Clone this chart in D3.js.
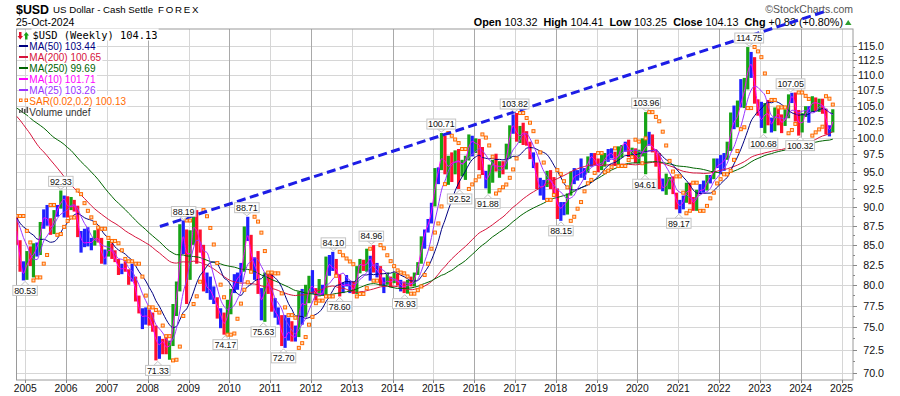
<!DOCTYPE html>
<html>
<head>
<meta charset="utf-8">
<script src="https://cdn.jsdelivr.net/npm/d3@7"></script>
<style>
  body { margin: 0; background: #fff; }
  svg { display: block; }
</style>
</head>
<body>
<svg id="chart" width="900" height="396"></svg>
<script>
// monthly bars, first bar is Oct 2004
const hi = [
  88.8, 85.6, 82.9,
  84.2, 84.8, 85.2, 85.3, 88.0, 89.7, 90.3, 88.5, 89.6, 90.3, 92.3, 91.6,
  91.5, 91.4, 91.0, 90.2, 86.8, 87.1, 87.3, 85.9, 86.9, 87.1, 85.9, 84.4,
  85.5, 85.2, 84.3, 83.2, 82.6, 82.9, 81.9, 82.6, 81.0, 78.7, 77.2, 77.3,
  77.0, 76.7, 75.2, 74.0, 73.7, 74.0, 73.5, 77.7, 80.4, 87.7, 88.2, 87.0,
  86.9, 89.1, 89.6, 87.0, 85.0, 81.5, 81.0, 79.8, 78.5, 77.2, 76.7, 78.2,
  79.5, 81.3, 81.5, 82.7, 87.4, 88.7, 86.3, 83.4, 84.2, 79.6, 81.5, 81.4,
  81.4, 78.4, 77.3, 76.4, 76.4, 76.1, 75.7, 75.2, 79.2, 79.5, 80.0, 81.1,
  81.8, 79.6, 80.7, 80.0, 83.5, 83.7, 84.1, 83.2, 81.3, 80.3, 81.2, 80.5,
  80.4, 82.3, 83.2, 83.1, 84.5, 83.6, 84.96, 82.7, 82.3, 80.9, 81.5, 81.0,
  81.5, 81.4, 80.6, 80.4, 80.6, 81.0, 81.5, 82.8, 86.1, 87.0, 88.4, 90.6,
  95.5, 95.6, 100.71, 100.3, 97.3, 97.8, 98.1, 98.3, 96.7, 97.3, 100.5, 100.3,
  99.9, 99.8, 98.6, 95.1, 96.0, 96.7, 97.6, 96.5, 96.5, 99.1, 101.9, 103.6,
  103.82, 101.8, 102.3, 101.0, 99.4, 97.8, 96.3, 94.1, 93.8, 95.1, 95.2, 94.2,
  92.6, 90.7, 90.7, 91.9, 95.0, 95.5, 95.2, 96.9, 95.5, 97.2, 97.7, 97.7,
  96.9, 97.4, 97.7, 98.3, 98.4, 97.9, 98.7, 98.9, 99.4, 99.7, 98.5, 98.4,
  98.2, 99.9, 103.96, 100.9, 100.5, 98.2, 97.7, 94.0, 94.7, 94.2, 94.3, 92.0,
  91.0, 91.6, 93.4, 93.4, 91.4, 92.4, 93.2, 93.7, 94.5, 94.5, 96.9, 96.9,
  97.4, 97.7, 99.4, 103.9, 105.0, 105.8, 109.3, 109.5, 114.75, 113.9, 113.0, 106.0,
  105.6, 105.4, 105.9, 103.1, 104.7, 104.7, 103.6, 104.4, 106.8, 107.05, 107.1, 104.3,
  103.8, 104.9, 104.9, 106.5, 106.3, 106.1, 106.1, 104.5, 101.9, 104.41
]
const lo = [
  85.0, 81.6, 80.53,
  80.6, 82.3, 80.9, 83.5, 83.7, 87.1, 87.5, 86.3, 86.4, 88.7, 89.8, 88.6,
  88.6, 89.6, 89.4, 86.0, 84.0, 84.7, 84.8, 84.3, 84.9, 85.3, 82.6, 82.5,
  83.5, 83.2, 82.8, 81.2, 81.3, 81.6, 80.0, 80.4, 78.0, 76.6, 74.8, 75.3,
  75.2, 74.5, 71.33, 71.5, 72.0, 72.0, 71.4, 72.9, 76.3, 79.2, 83.8, 77.7,
  80.6, 85.0, 82.6, 84.0, 79.2, 79.0, 78.2, 77.7, 76.0, 74.9, 74.17, 74.3,
  76.5, 79.0, 79.4, 80.3, 81.6, 85.5, 81.7, 80.6, 78.9, 75.8, 75.63, 78.9,
  76.8, 76.1, 75.3, 72.9, 72.70, 73.5, 73.4, 73.4, 73.9, 75.3, 76.2, 77.8,
  78.9, 78.1, 78.6, 78.7, 78.6, 81.1, 81.7, 81.2, 78.60, 79.0, 79.8, 79.0,
  78.9, 78.9, 81.4, 81.7, 81.6, 80.5, 81.5, 80.9, 79.9, 79.0, 80.0, 79.7,
  80.2, 79.9, 79.2, 79.0, 78.93, 79.8, 79.8, 81.2, 82.6, 84.5, 86.6, 87.8,
  90.1, 93.2, 95.2, 94.6, 93.1, 93.5, 94.6, 92.52, 94.3, 93.8, 96.6, 97.2,
  97.7, 95.2, 94.5, 92.6, 91.88, 93.4, 95.0, 94.1, 94.6, 95.3, 96.9, 100.6,
  99.4, 99.2, 98.9, 98.8, 96.8, 95.5, 92.5, 91.6, 91.0, 92.8, 92.5, 91.9,
  88.4, 88.15, 88.9, 89.0, 91.6, 93.2, 93.7, 94.1, 93.8, 94.8, 95.7, 95.9,
  94.9, 95.2, 95.7, 96.4, 96.9, 95.8, 95.8, 97.0, 97.9, 97.1, 97.1, 96.2,
  96.2, 97.2, 94.61, 98.8, 97.8, 95.7, 92.5, 92.2, 91.7, 92.5, 91.8, 89.7,
  89.17, 89.7, 90.6, 90.4, 89.5, 89.5, 91.8, 92.0, 92.3, 93.3, 93.9, 95.5,
  94.6, 95.1, 96.7, 98.0, 101.3, 101.6, 104.7, 104.6, 107.6, 109.5, 105.3, 103.4,
  101.5, 100.68, 101.9, 100.8, 101.0, 101.9, 100.7, 101.8, 103.0, 105.4, 102.5, 100.32,
  100.8, 103.2, 102.3, 104.0, 104.1, 104.0, 103.7, 100.5, 100.2, 100.8
]
const cl = [
  85.1, 81.8, 81.0,
  83.8, 82.7, 84.8, 84.6, 87.9, 89.2, 87.7, 86.9, 89.4, 89.8, 91.3, 90.9,
  89.5, 90.6, 89.8, 86.4, 85.3, 85.2, 85.4, 85.2, 86.3, 85.3, 82.8, 83.7,
  84.9, 83.5, 82.9, 81.6, 82.3, 81.8, 80.5, 80.9, 78.0, 76.6, 75.9, 76.7,
  75.4, 74.9, 72.4, 73.7, 73.1, 72.5, 73.3, 77.1, 79.6, 85.6, 86.5, 81.4,
  86.3, 88.2, 85.6, 84.5, 79.4, 80.1, 78.6, 78.3, 76.7, 76.2, 74.7, 77.9,
  79.4, 80.5, 81.0, 81.8, 86.3, 86.1, 81.7, 83.1, 79.2, 77.2, 81.1, 79.0,
  77.2, 76.5, 75.9, 73.0, 74.6, 74.3, 73.8, 74.0, 78.7, 76.8, 78.4, 80.2,
  79.4, 78.8, 79.0, 78.8, 83.4, 81.6, 82.6, 81.2, 79.9, 79.9, 80.1, 79.8,
  79.2, 82.0, 83.0, 81.8, 83.3, 83.1, 81.5, 82.1, 80.2, 80.2, 80.7, 80.0,
  81.2, 79.9, 80.1, 79.5, 80.4, 79.8, 81.5, 82.7, 85.9, 86.9, 88.4, 90.3,
  94.8, 95.3, 98.4, 94.6, 96.9, 95.5, 97.3, 95.8, 96.4, 96.9, 100.2, 98.7,
  99.6, 98.2, 94.6, 93.1, 95.9, 96.1, 95.5, 96.0, 95.5, 98.4, 101.5, 102.2,
  99.5, 101.1, 100.4, 99.0, 97.0, 95.6, 92.9, 92.7, 93.1, 94.6, 93.0, 92.1,
  89.1, 90.6, 90.1, 91.8, 93.9, 94.5, 94.5, 95.1, 95.1, 97.1, 97.2, 96.2,
  95.6, 96.2, 97.3, 97.5, 97.8, 96.1, 98.5, 98.9, 99.4, 97.4, 98.3, 96.4,
  97.4, 98.1, 99.0, 99.0, 98.3, 97.4, 93.3, 92.1, 93.9, 94.0, 91.9, 89.9,
  90.6, 90.9, 93.2, 91.3, 90.0, 92.4, 92.2, 92.6, 94.2, 94.1, 95.8, 95.7,
  96.5, 96.7, 98.3, 102.9, 101.8, 104.7, 105.9, 108.7, 112.1, 111.5, 105.9, 103.5,
  102.1, 104.9, 102.5, 101.7, 104.3, 102.9, 101.9, 103.6, 106.2, 106.7, 103.5, 101.3,
  103.3, 104.2, 104.5, 106.2, 104.7, 105.9, 104.1, 101.7, 100.8, 104.13
]
// Dec 1999 .. Sep 2004 closes, only used to warm up the long averages
const preClose = [
  101.9,
  102.3, 104.8, 105.0, 109.7, 108.6, 106.1, 108.9, 112.3, 114.4, 117.6, 116.2, 109.1,
  110.3, 112.9, 117.2, 116.0, 119.5, 120.3, 117.3, 113.3, 113.6, 115.9, 116.6, 116.8,
  119.8, 119.2, 118.8, 115.5, 111.6, 106.6, 107.9, 107.6, 108.1, 107.9, 107.0, 102.0,
  99.4, 99.3, 100.6, 97.6, 93.5, 95.2, 97.4, 98.4, 93.3, 93.0, 91.0, 86.9,
  87.9, 88.6, 87.8, 90.6, 88.8, 88.8, 89.9, 89.4, 88.5
]
const yTicks = [70, 72.5, 75, 77.5, 80, 82.5, 85, 87.5, 90, 92.5, 95, 97.5, 100, 102.5, 105, 107.5, 110, 112.5, 115]
const years = d3.range(2005, 2026)
// labelled turning points: date, value, above/below
const marks = [
  ["2004-12-30", 80.53, "lo"], ["2005-11-15", 92.33, "hi"], ["2008-04-01", 71.33, "lo"],
  ["2008-11-18", 88.19, "hi"], ["2009-11-25", 74.17, "lo"], ["2010-06-07", 88.71, "hi"],
  ["2010-11-01", 75.63, "lo"], ["2011-05-01", 72.70, "lo"], ["2012-07-20", 84.10, "hi"],
  ["2012-09-14", 78.60, "lo"], ["2013-06-25", 84.96, "hi"], ["2014-04-20", 78.93, "lo"],
  ["2015-03-13", 100.71, "hi"], ["2015-08-24", 92.52, "lo"], ["2016-05-03", 91.88, "lo"],
  ["2016-12-28", 103.82, "hi"], ["2018-02-16", 88.15, "lo"], ["2020-03-19", 103.96, "hi"],
  ["2020-03-09", 94.61, "lo"], ["2021-01-06", 89.17, "lo"], ["2022-09-28", 114.75, "hi"],
  ["2023-02-02", 100.68, "lo"], ["2023-10-03", 107.05, "hi"], ["2023-12-28", 100.32, "lo"]
]
const trend = [["2008-04-20", 87.4], ["2024-08-20", 121.2]]
const legendItems = [
  ["MA(50) 103.44", "#000080"], ["MA(200) 100.65", "#d6143c"], ["MA(250) 99.69", "#006400"],
  ["MA(10) 101.71", "#ff00ff"], ["MA(25) 103.26", "#9933ff"]
]

const svg = d3.select("#chart")
const P = { l: 16.5, r: 853, t: 29, b: 380 }
const parse = d3.timeParse("%Y-%m-%d")
const x = d3.scaleTime().domain([new Date(2005, 0, 1), new Date(2025, 0, 1)]).range([25.3, 841.5])
const y = d3.scaleLog().domain([70, 115]).range([372.8, 45.6])
const dates = hi.map((d, i) => new Date(2004, 9 + i, 15))

// indicators (weekly periods turned into months)
const all = preClose.concat(cl)
const off = preClose.length
const ma = n => cl.map((d, i) => d3.mean(all.slice(off + i - n + 1, off + i + 1)))
const ema = (arr, n) => { const k = 2 / (n + 1); let e = arr[0]; return arr.map((v, i) => i ? (e = v * k + e * (1 - k)) : e) }
const e13 = ema(all, 3)
const macd = ema(all, 3).map((v, i) => v - ema(all, 6)[i])
const sig = ema(macd, 2)
const hist = macd.map((v, i) => v - sig[i])
const barColor = i => {
  const j = off + i
  const a = e13[j] > e13[j - 1], b = hist[j] > hist[j - 1]
  return a && b ? "#16a316" : (!a && !b ? "#ff1030" : "#2020ff")
}
function psar(h, l, step, top) {
  let up = false, af = step, ep = l[0], s = h[0]
  const out = [s]
  for (let i = 1; i < h.length; i++) {
    s = s + af * (ep - s)
    if (up) {
      s = Math.min(s, l[i - 1], l[Math.max(i - 2, 0)])
      if (l[i] < s) { up = false; s = ep; ep = l[i]; af = step }
      else if (h[i] > ep) { ep = h[i]; af = Math.min(af + step, top) }
    } else {
      s = Math.max(s, h[i - 1], h[Math.max(i - 2, 0)])
      if (h[i] > s) { up = true; s = ep; ep = h[i]; af = step }
      else if (l[i] < ep) { ep = l[i]; af = Math.min(af + step, top) }
    }
    out.push(s)
  }
  return out
}
// weekly 0.02/0.2 acts about four times faster per monthly bar
const sar = psar(hi, lo, 0.08, 0.5)

svg.append("clipPath").attr("id", "clip").append("rect")
  .attr("x", P.l).attr("y", P.t).attr("width", P.r - P.l).attr("height", P.b - P.t)

// grid
const grid = svg.append("g")
grid.selectAll("line.h").data(yTicks).join("line")
  .attr("x1", P.l).attr("x2", P.r).attr("y1", d => Math.round(y(d)) + 0.5).attr("y2", d => Math.round(y(d)) + 0.5)
  .attr("stroke", "#d6d6d6")
grid.selectAll("line.v").data(years).join("line")
  .attr("x1", d => Math.round(x(new Date(d, 0, 1))) + 0.5).attr("x2", d => Math.round(x(new Date(d, 0, 1))) + 0.5)
  .attr("y1", P.t).attr("y2", P.b)
  .attr("stroke", d => d % 2 ? "#d6d6d6" : "#a9a9a9")
svg.append("rect").attr("x", P.l).attr("y", P.t).attr("width", P.r - P.l).attr("height", P.b - P.t)
  .attr("fill", "none").attr("stroke", "#9a9a9a")

// axes
const yAxis = svg.append("g")
yAxis.selectAll("line").data(d3.range(70, 116.25, 1.25)).join("line")
  .attr("x1", P.r).attr("x2", d => P.r + (d % 2.5 ? 2 : 4))
  .attr("y1", d => Math.round(y(d)) + 0.5).attr("y2", d => Math.round(y(d)) + 0.5).attr("stroke", "#888")
yAxis.selectAll("text").data(yTicks).join("text")
  .attr("x", 884).attr("y", d => y(d) + 4).attr("text-anchor", "end")
  .attr("font-family", "Liberation Sans, Arial, sans-serif").attr("font-size", 10.7).attr("fill", "#111")
  .text(d => d.toFixed(1))
const xAxis = svg.append("g")
xAxis.selectAll("line").data(years).join("line")
  .attr("x1", d => Math.round(x(new Date(d, 0, 1))) + 0.5).attr("x2", d => Math.round(x(new Date(d, 0, 1))) + 0.5)
  .attr("y1", P.b).attr("y2", P.b + 3).attr("stroke", "#888")
xAxis.selectAll("text").data(years).join("text")
  .attr("x", d => x(new Date(d, 0, 1))).attr("y", 392).attr("text-anchor", "middle")
  .attr("font-family", "Liberation Sans, Arial, sans-serif").attr("font-size", 10.3).attr("fill", "#111")
  .text(d => d)

const plot = svg.append("g").attr("clip-path", "url(#clip)")

// price bars
plot.selectAll("rect.bar").data(hi).join("rect")
  .attr("x", (d, i) => x(dates[i]) - 1.6).attr("width", 3.2)
  .attr("y", d => y(d)).attr("height", (d, i) => Math.max(1, y(lo[i]) - y(d)))
  .attr("fill", (d, i) => barColor(i))

// moving averages
const line = d3.line().x((d, i) => x(dates[i])).y(d => y(d)).curve(d3.curveMonotoneX)
const mas = [[46, "#d6143c"], [58, "#006400"], [12, "#000080"], [6, "#9933ff"], [2, "#ff00ff"]]
mas.forEach(([n, c]) => {
  plot.append("path").datum(ma(n)).attr("d", line).attr("fill", "none").attr("stroke", c).attr("stroke-width", 1)
})

// parabolic SAR
plot.selectAll("rect.sar").data(sar).join("rect")
  .attr("x", (d, i) => x(dates[i]) - 1.5).attr("y", d => y(d) - 1.5)
  .attr("width", 3).attr("height", 3)
  .attr("fill", "#ffd9b8").attr("stroke", "#ff6a00").attr("stroke-width", 1)

// header
const sans = "Liberation Sans, Arial, sans-serif"
svg.append("text").attr("x", 16).attr("y", 13.5).attr("font-family", sans).attr("font-weight", "bold")
  .attr("font-size", 12.4).text("$USD")
svg.append("text").attr("x", 53).attr("y", 12.7).attr("font-family", sans).attr("font-size", 9.7)
  .text("US Dollar - Cash Settle")
svg.append("text").attr("x", 158).attr("y", 12.7).attr("font-family", sans).attr("font-size", 9.7)
  .attr("letter-spacing", 1.8).text("FOREX")
svg.append("text").attr("x", 16).attr("y", 26).attr("font-family", sans).attr("font-size", 10.5)
  .text("25-Oct-2024")
svg.append("text").attr("x", 853).attr("y", 13).attr("text-anchor", "end").attr("font-family", sans)
  .attr("font-size", 10.5).attr("fill", "#555").text("\u00a9StockCharts.com")
const quote = svg.append("text").attr("x", 843).attr("y", 25.5).attr("text-anchor", "end")
  .attr("font-family", sans).attr("font-size", 10.8)
;[["Open ", "103.32  "], ["High ", "104.41  "], ["Low ", "103.25  "], ["Close ", "104.13  "], ["Chg ", "+0.83 (+0.80%)"]]
  .forEach(([k, v]) => {
    quote.append("tspan").attr("font-weight", "bold").text(k)
    quote.append("tspan").text(v)
  })
quote.attr("xml:space", "preserve")
svg.append("path").attr("d", "M845,25L851.5,25L848.2,20Z").attr("fill", "#2e9e2e")

// legend
const leg = svg.append("g")
const legText = (tx, ty, s, c, fam, fs) => {
  const t = leg.append("text").attr("x", tx).attr("y", ty).attr("font-family", fam).attr("font-size", fs)
    .attr("fill", c).text(s)
  const b = t.node().getBBox()
  leg.insert("rect", "text").attr("x", b.x - 1).attr("y", b.y).attr("width", b.width + 2).attr("height", b.height)
    .attr("fill", "#fff")
}
legText(32.5, 38.5, "$USD (Weekly) 104.13", "#000", "DejaVu Sans Mono, monospace", 10.4)
leg.append("path").attr("d", "M19,32L21.5,32L21.5,36L23,36L20.25,39.5L17.5,36L19,36Z").attr("fill", "#e0102a")
leg.append("path").attr("d", "M25,39.5L27.5,39.5L27.5,35.5L29,35.5L26.25,32L23.5,35.5L25,35.5Z").attr("fill", "#16a316")
legendItems.forEach(([s, c], i) => {
  const by = 49.5 + i * 11
  legText(29.3, by, s, c, sans, 10)
  leg.append("line").attr("x1", 19).attr("x2", 28).attr("y1", by - 3.5).attr("y2", by - 3.5)
    .attr("stroke", c).attr("stroke-width", 2)
})
legText(29.3, 104.5, "SAR(0.02,0.2) 100.13", "#ff6a00", sans, 10)
;[19.5, 25].forEach(sx => leg.append("rect").attr("x", sx).attr("y", 99).attr("width", 2.5).attr("height", 2.5)
  .attr("fill", "#fff").attr("stroke", "#ff6a00"))
legText(29.3, 115.5, "Volume undef", "#333", sans, 10)
;[[19, 110, 3], [21.5, 108, 5], [24, 109, 4], [26.5, 107, 6]].forEach(([bx, byy, bh]) =>
  leg.append("rect").attr("x", bx).attr("y", byy).attr("width", 1.6).attr("height", bh).attr("fill", "#555"))

// trend line
svg.append("line")
  .attr("x1", x(parse(trend[0][0]))).attr("y1", y(trend[0][1]))
  .attr("x2", x(parse(trend[1][0]))).attr("y2", y(trend[1][1]))
  .attr("stroke", "#1d1de6").attr("stroke-width", 3).attr("stroke-dasharray", "9,4.5")

// labels of highs and lows
const lab = svg.append("g").attr("font-family", sans).attr("font-size", 9)
marks.forEach(([ds, v, side]) => {
  const px = x(parse(ds)), py = y(v)
  const s = v.toFixed(2)
  const w = s.length * 4.3 + 3, h = 10
  const top = side === "hi" ? py - 4 - h : py + 5
  const tipY = side === "hi" ? py - 1 : py + 1
  const baseY = side === "hi" ? top + h : top
  lab.append("path").attr("d", `M${px - 4},${baseY}L${px},${tipY}L${px + 4},${baseY}Z`)
    .attr("fill", "#fff").attr("stroke", "#c4c4c4")
  lab.append("rect").attr("x", px - w / 2).attr("y", top).attr("width", w).attr("height", h)
    .attr("fill", "#fff").attr("stroke", "#c4c4c4")
  lab.append("text").attr("x", px).attr("y", top + 8.3).attr("text-anchor", "middle")
    .attr("letter-spacing", -0.2).attr("fill", "#111").text(s)
})
</script>
</body>
</html>
